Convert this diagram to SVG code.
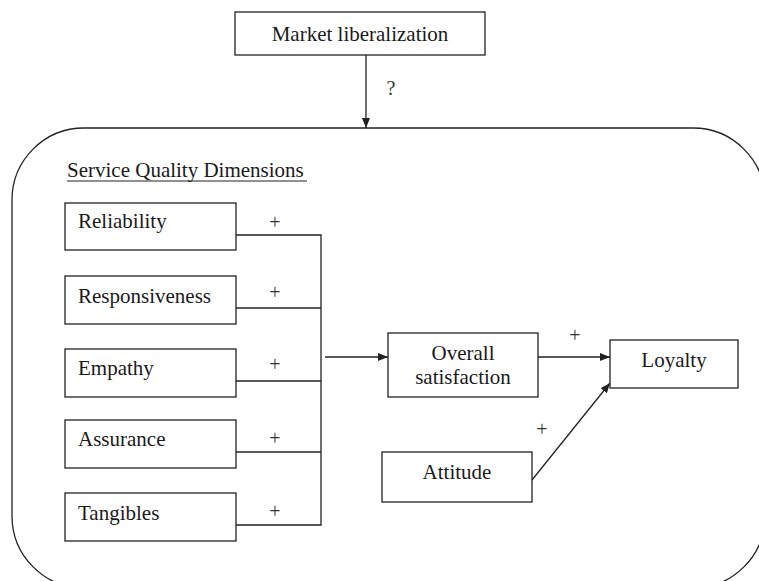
<svg xmlns="http://www.w3.org/2000/svg" width="759" height="581" viewBox="0 0 759 581">
<style>
text{font-family:"Liberation Serif","Times New Roman",serif;font-size:21px;fill:#1a1a1a}
.box{fill:#fff;stroke:#222;stroke-width:1.3}
.ln{fill:none;stroke:#222;stroke-width:1.3}
.pl{font-size:20px;text-anchor:middle;fill:#333}
</style>
<defs>
<marker id="ah" markerWidth="10" markerHeight="8" refX="10" refY="4" orient="auto" markerUnits="userSpaceOnUse">
<path d="M0,0 L10,4 L0,8 Z" fill="#222"/>
</marker>
</defs>
<rect id="frame" x="12" y="128" width="753" height="460" rx="72" ry="72" class="ln"/>
<text x="67" y="177">Service Quality Dimensions</text>
<line x1="67" y1="181" x2="307" y2="181" stroke="#222" stroke-width="1.2"/>
<g id="connectors">
<line class="ln" x1="366" y1="55" x2="366" y2="128" marker-end="url(#ah)"/>
<polyline class="ln" points="236,235 321,235 321,525 236,525"/>
<line class="ln" x1="236" y1="308" x2="321" y2="308"/>
<line class="ln" x1="236" y1="381" x2="321" y2="381"/>
<line class="ln" x1="236" y1="452" x2="321" y2="452"/>
<line class="ln" x1="325" y1="357" x2="388" y2="357" marker-end="url(#ah)"/>
<line class="ln" x1="538" y1="357" x2="610" y2="357" marker-end="url(#ah)"/>
<line class="ln" x1="532" y1="480" x2="610" y2="383" marker-end="url(#ah)"/>
<text x="391" y="95" class="pl">?</text>
<text x="275" y="229" class="pl">+</text>
<text x="275" y="299" class="pl">+</text>
<text x="275" y="371" class="pl">+</text>
<text x="275" y="445" class="pl">+</text>
<text x="275" y="518" class="pl">+</text>
<text x="575" y="342" class="pl">+</text>
<text x="542" y="436" class="pl">+</text>
</g>
<g id="market"><rect class="box" x="235" y="12" width="250" height="43"/><text x="360" y="41" text-anchor="middle">Market liberalization</text></g>
<g id="reliability"><rect class="box" x="65" y="203" width="171" height="47"/><text x="78" y="228">Reliability</text></g>
<g id="responsiveness"><rect class="box" x="65" y="276" width="171" height="48"/><text x="78" y="303">Responsiveness</text></g>
<g id="empathy"><rect class="box" x="65" y="349" width="171" height="48"/><text x="78" y="375">Empathy</text></g>
<g id="assurance"><rect class="box" x="65" y="420" width="171" height="48"/><text x="78" y="446">Assurance</text></g>
<g id="tangibles"><rect class="box" x="65" y="493" width="171" height="48"/><text x="78" y="520">Tangibles</text></g>
<g id="satisfaction"><rect class="box" x="388" y="333" width="150" height="64"/><text x="463" y="360" text-anchor="middle">Overall</text><text x="463" y="384" text-anchor="middle">satisfaction</text></g>
<g id="loyalty"><rect class="box" x="610" y="340" width="128" height="48"/><text x="674" y="367" text-anchor="middle">Loyalty</text></g>
<g id="attitude"><rect class="box" x="382" y="452" width="150" height="50"/><text x="457" y="479" text-anchor="middle">Attitude</text></g>
</svg>
